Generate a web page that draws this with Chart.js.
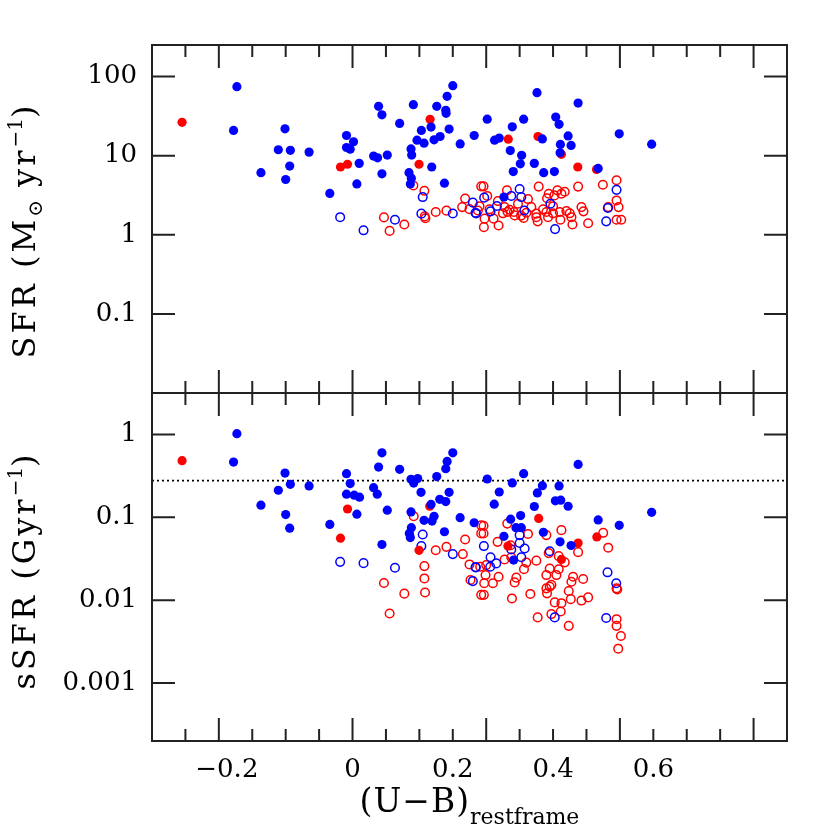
<!DOCTYPE html>
<html>
<head>
<meta charset="utf-8">
<script src="https://cdn.jsdelivr.net/npm/chart.js@4"></script>
<style>html,body{margin:0;background:#fff}canvas{display:block}</style>
</head>
<body>
<canvas id="myChart" width="830" height="830"></canvas>
<script>
// x axis: (U-B) restframe
const xMin = -0.3, xMax = 0.65;
const xMajorTicks = [-0.2, 0, 0.2, 0.4, 0.6];
const xMinorStep = 0.05;
// label positions as printed in the figure (they do not sit on the major ticks)
const xLabelPos = [-0.188, 0, 0.15, 0.30, 0.45];
const xLabelText = ['\u22120.2', '0', '0.2', '0.4', '0.6'];

// top panel: SFR
const sfrMin = 0.01, sfrMax = 251;
const sfrTicks = [100, 10, 1, 0.1];
const sfrTickText = ['100', '10', '1', '0.1'];
// bottom panel: sSFR
const ssfrMin = 0.0002, ssfrMax = 3.162;
const ssfrTicks = [1, 0.1, 0.01, 0.001];
const ssfrTickText = ['1', '0.1', '0.01', '0.001'];
const ssfrLimit = 0.277;

const sfrBlueFilled = [[-0.173,74.7],[-0.178,20.9],[-0.101,21.9],[-0.111,11.9],[-0.093,11.7],[-0.065,11.1],[-0.094,7.4],[-0.137,6.1],[-0.100,5.0],[-0.034,3.34],[-0.009,18.0],[0.0015,15.0],[-0.009,12.7],[-0.0035,12.1],[0.010,8.0],[0.0065,4.4],[0.039,42.1],[0.044,32.9],[0.0315,9.9],[0.0375,9.4],[0.052,10.2],[0.044,5.9],[0.0705,25.6],[0.091,44.2],[0.103,20.9],[0.1175,23.0],[0.0965,15.7],[0.107,14.4],[0.0875,12.2],[0.0885,10.2],[0.1185,7.2],[0.0845,6.1],[0.088,5.2],[0.0865,4.4],[0.1375,4.5],[0.126,42.1],[0.1395,37.5],[0.140,34.3],[0.1415,56.4],[0.150,76.9],[0.122,15.9],[0.131,17.5],[0.1445,21.7],[0.161,14.1],[0.182,18.0],[0.276,62.7],[0.3375,46.3],[0.2015,29.0],[0.256,29.0],[0.239,23.2],[0.304,30.8],[0.309,24.9],[0.2125,15.7],[0.2195,16.7],[0.284,16.3],[0.3225,17.8],[0.311,13.9],[0.327,13.5],[0.3105,10.9],[0.236,11.6],[0.253,10.1],[0.251,7.9],[0.272,8.0],[0.2405,6.3],[0.286,6.1],[0.302,6.3],[0.399,18.9],[0.4475,14.0],[0.3675,6.9],[0.2265,3.0]];
const sfrRedFilled = [[-0.255,26.4],[0.116,28.8],[-0.018,7.2],[-0.0075,7.8],[0.0995,7.8],[0.233,16.2],[0.2775,17.5],[0.3125,10.4],[0.337,7.2],[0.365,6.7]];
const sfrBlueOpen = [[-0.0185,1.67],[0.0165,1.14],[0.0635,1.55],[0.105,3.0],[0.103,1.85],[0.150,1.86],[0.180,2.55],[0.184,1.90],[0.250,3.8],[0.395,3.7],[0.197,2.95],[0.2375,3.1],[0.2525,3.0],[0.216,2.31],[0.2065,1.98],[0.185,1.86],[0.296,2.47],[0.257,2.03],[0.382,2.18],[0.3795,1.48],[0.303,1.18]];
const sfrRedOpen = [[0.091,4.2],[0.1075,3.6],[0.047,1.66],[0.0555,1.12],[0.0775,1.35],[0.108,1.71],[0.109,1.62],[0.1245,1.94],[0.1405,2.02],[0.1685,2.87],[0.164,2.24],[0.175,2.11],[0.1925,4.1],[0.196,4.1],[0.2785,4.07],[0.3375,4.07],[0.3745,4.3],[0.395,4.9],[0.231,3.65],[0.2015,3.1],[0.2175,2.67],[0.2625,2.83],[0.2935,3.3],[0.3065,3.65],[0.3175,3.5],[0.3125,3.3],[0.302,3.15],[0.291,2.9],[0.395,2.72],[0.398,2.24],[0.3825,2.24],[0.3425,2.24],[0.3455,1.98],[0.1875,2.03],[0.2275,2.24],[0.235,2.07],[0.2415,1.94],[0.2425,1.76],[0.225,1.87],[0.1975,1.6],[0.211,1.6],[0.1965,1.25],[0.2185,1.31],[0.256,1.63],[0.275,1.67],[0.277,1.48],[0.290,1.94],[0.2925,1.67],[0.300,1.87],[0.310,1.94],[0.311,1.55],[0.325,1.87],[0.3275,1.67],[0.329,1.35],[0.3525,1.40],[0.395,1.55],[0.402,1.55],[0.2675,2.24],[0.2475,2.47],[0.19,2.3],[0.205,2.1],[0.26,1.9],[0.285,2.1],[0.30,2.3],[0.32,2.0],[0.275,1.85],[0.232,1.95],[0.252,1.75]];

const ssfrBlueFilled = [[-0.173,1.02],[-0.178,0.464],[-0.101,0.342],[-0.111,0.212],[-0.093,0.250],[-0.065,0.239],[-0.137,0.14],[-0.100,0.108],[-0.094,0.074],[-0.034,0.082],[-0.009,0.336],[-0.0035,0.255],[-0.009,0.19],[0.0025,0.185],[0.0105,0.175],[0.0065,0.109],[0.044,0.60],[0.039,0.404],[0.0315,0.228],[0.037,0.19],[0.052,0.122],[0.044,0.047],[0.0705,0.379],[0.0875,0.287],[0.0975,0.293],[0.0915,0.259],[0.1025,0.20],[0.126,0.31],[0.1395,0.386],[0.1415,0.473],[0.150,0.60],[0.1445,0.20],[0.1305,0.165],[0.1395,0.155],[0.1175,0.143],[0.122,0.103],[0.107,0.092],[0.119,0.090],[0.0875,0.116],[0.088,0.075],[0.085,0.064],[0.0865,0.057],[0.1375,0.067],[0.161,0.099],[0.182,0.086],[0.3375,0.435],[0.2015,0.29],[0.256,0.336],[0.239,0.26],[0.2195,0.202],[0.212,0.144],[0.284,0.241],[0.2765,0.197],[0.309,0.239],[0.3035,0.158],[0.3115,0.161],[0.3225,0.136],[0.272,0.135],[0.2365,0.095],[0.2515,0.105],[0.2445,0.075],[0.2525,0.075],[0.2265,0.059],[0.2855,0.066],[0.3105,0.0506],[0.327,0.0457],[0.3675,0.093],[0.399,0.080],[0.4475,0.115],[0.241,0.0305]];
const ssfrRedFilled = [[-0.255,0.482],[-0.0075,0.126],[-0.018,0.056],[0.1155,0.136],[0.0995,0.040],[0.2785,0.097],[0.2325,0.045],[0.3375,0.049],[0.3655,0.058],[0.3125,0.031]];
const ssfrBlueOpen = [[-0.0185,0.029],[0.0165,0.028],[0.0635,0.0246],[0.105,0.062],[0.103,0.045],[0.150,0.036],[0.184,0.025],[0.180,0.017],[0.1965,0.045],[0.25,0.061],[0.25,0.049],[0.2575,0.042],[0.2375,0.041],[0.2525,0.033],[0.2065,0.033],[0.215,0.0278],[0.206,0.0253],[0.1845,0.0249],[0.295,0.039],[0.3815,0.0217],[0.3945,0.016],[0.3025,0.0062],[0.3795,0.0061]];
const ssfrRedOpen = [[0.0915,0.103],[0.1245,0.040],[0.1405,0.044],[0.1685,0.054],[0.165,0.036],[0.175,0.027],[0.1075,0.0258],[0.1075,0.0183],[0.1085,0.0124],[0.047,0.0161],[0.0775,0.012],[0.1925,0.080],[0.1925,0.064],[0.1765,0.0175],[0.0555,0.0069],[0.1925,0.0116],[0.196,0.079],[0.196,0.064],[0.2315,0.084],[0.2625,0.063],[0.3125,0.070],[0.29,0.061],[0.375,0.065],[0.3825,0.043],[0.217,0.0506],[0.2365,0.046],[0.2275,0.031],[0.2375,0.033],[0.275,0.030],[0.26,0.0284],[0.2935,0.037],[0.3085,0.034],[0.3175,0.0286],[0.3375,0.038],[0.2565,0.0237],[0.295,0.0241],[0.3085,0.0236],[0.29,0.0201],[0.305,0.0201],[0.191,0.0253],[0.2,0.0265],[0.199,0.0201],[0.197,0.016],[0.21,0.016],[0.2185,0.0192],[0.2425,0.0164],[0.245,0.0187],[0.3275,0.0167],[0.33,0.0192],[0.345,0.018],[0.29,0.0139],[0.2975,0.0153],[0.395,0.0139],[0.1965,0.0116],[0.2385,0.0105],[0.266,0.0119],[0.291,0.0121],[0.3235,0.0129],[0.3265,0.0103],[0.3425,0.0099],[0.3525,0.0108],[0.3025,0.0094],[0.3125,0.0092],[0.3115,0.0073],[0.2975,0.0068],[0.277,0.0062],[0.3235,0.0049],[0.395,0.0059],[0.395,0.0049],[0.4015,0.0037],[0.3975,0.0026],[0.396,0.0135],[0.295,0.0146]];

const BLUE = '#0000ff';
const RED = '#ff0000';
const FONT = 'DejaVu Serif';

const toPoints = (arr) => arr.map(([x, y]) => ({x, y}));

const filled = (data, color, axis, order) => ({
    data: toPoints(data), yAxisID: axis, order,
    pointRadius: 4.6, backgroundColor: color, borderWidth: 0, showLine: false,
});
const open = (data, color, axis, order) => ({
    data: toPoints(data), yAxisID: axis, order,
    pointRadius: 4.3, backgroundColor: 'rgba(0,0,0,0)', borderColor: color, borderWidth: 1.5, showLine: false,
});

// inward ticks and panel frames, SM style
const frameTicks = {
    id: 'frameTicks',
    afterDatasetsDraw(chart) {
        const {ctx, chartArea: {left, right}, scales: {x, y1, y2}} = chart;
        ctx.save();
        ctx.strokeStyle = '#222';
        ctx.lineWidth = 2;
        [[y1, sfrTicks], [y2, ssfrTicks]].forEach(([ys, vals]) => {
            ctx.strokeRect(left, ys.top, right - left, ys.bottom - ys.top);
            ctx.beginPath();
            vals.forEach((v) => {
                const py = ys.getPixelForValue(v);
                ctx.moveTo(left, py); ctx.lineTo(left + 23, py);
                ctx.moveTo(right, py); ctx.lineTo(right - 23, py);
            });
            const n0 = Math.ceil(xMin / xMinorStep + 1e-6), n1 = Math.floor(xMax / xMinorStep - 1e-6);
            for (let k = n0; k <= n1; k++) {
                const v = Math.round(k * xMinorStep * 100) / 100;
                const major = xMajorTicks.some((m) => Math.abs(m - v) < 1e-6);
                const len = major ? 23 : 12;
                const px = x.getPixelForValue(v);
                ctx.moveTo(px, ys.top); ctx.lineTo(px, ys.top + len);
                ctx.moveTo(px, ys.bottom); ctx.lineTo(px, ys.bottom - len);
            }
            ctx.stroke();
        });
        ctx.restore();
    },
};

// text with sub/superscripts
const drawRich = (ctx, parts, x, y, angle) => {
    ctx.save();
    ctx.translate(x, y);
    ctx.rotate(angle);
    ctx.fillStyle = '#000';
    ctx.textAlign = 'left';
    ctx.textBaseline = 'alphabetic';
    let total = 0;
    parts.forEach((p) => {
        ctx.font = `${p.size}px "${FONT}"`;
        ctx.letterSpacing = (p.ls || 0) + 'px';
        p.w = ctx.measureText(p.t).width;
        total += p.w;
    });
    let cx = -total / 2;
    parts.forEach((p) => {
        ctx.font = `${p.size}px "${FONT}"`;
        ctx.letterSpacing = (p.ls || 0) + 'px';
        ctx.fillText(p.t, cx, p.dy || 0);
        cx += p.w;
    });
    ctx.restore();
};

const axisTitles = {
    id: 'axisTitles',
    afterDraw(chart) {
        const {ctx, chartArea: {left, right}, scales: {x, y1, y2}} = chart;
        drawRich(ctx, [
            {t: 'SFR (M', size: 32, ls: 3},
            {t: '\u2299', size: 20, dy: 7},
            {t: ' yr', size: 32, ls: 3},
            {t: '\u22121', size: 20, dy: -13},
            {t: ')', size: 32},
        ], 35, (y1.top + y1.bottom) / 2 + 13, -Math.PI / 2);
        drawRich(ctx, [
            {t: 'sSFR (Gyr', size: 32, ls: 3},
            {t: '\u22121', size: 20, dy: -13},
            {t: ')', size: 32},
        ], 35, (y2.top + y2.bottom) / 2 + 5, -Math.PI / 2);
        drawRich(ctx, [
            {t: '(U\u2212B)', size: 33, ls: 1},
            {t: 'restframe', size: 22, dy: 12},
        ], (left + right) / 2, 812, 0);
    },
};

const yScale = (min, max, ticks, text) => ({
    type: 'logarithmic',
    position: 'left',
    stack: 'panels',
    stackWeight: 1,
    min, max,
    afterBuildTicks: (s) => { s.ticks = ticks.map((v) => ({value: v})); },
    ticks: {
        callback: (v, i) => text[i],
        font: {family: FONT, size: 26},
        color: '#000',
        padding: 15,
        autoSkip: false,
    },
    grid: {display: false, drawTicks: false},
    border: {display: false},
    afterFit: (s) => { s.width = 152; },
});

new Chart(document.getElementById('myChart'), {
    type: 'scatter',
    data: {
        datasets: [
            open(sfrRedOpen, RED, 'y1', 4),
            open(sfrBlueOpen, BLUE, 'y1', 3),
            filled(sfrRedFilled, RED, 'y1', 2),
            filled(sfrBlueFilled, BLUE, 'y1', 1),
            open(ssfrRedOpen, RED, 'y2', 4),
            open(ssfrBlueOpen, BLUE, 'y2', 3),
            filled(ssfrRedFilled, RED, 'y2', 2),
            filled(ssfrBlueFilled, BLUE, 'y2', 1),
            {
                data: [{x: xMin, y: ssfrLimit}, {x: xMax, y: ssfrLimit}],
                yAxisID: 'y2', order: 5, showLine: true, pointRadius: 0,
                borderColor: '#000', borderWidth: 1.6, borderDash: [2, 3],
            },
        ],
    },
    options: {
        responsive: false,
        animation: false,
        events: [],
        layout: {padding: {top: 45, right: 43, bottom: 0, left: 0}},
        scales: {
            x: {
                type: 'linear',
                min: xMin, max: xMax,
                afterBuildTicks: (s) => { s.ticks = xLabelPos.map((v) => ({value: v})); },
                ticks: {
                    callback: (v, i) => xLabelText[i],
                    font: {family: FONT, size: 26},
                    color: '#000',
                    padding: 14,
                    maxRotation: 0,
                    autoSkip: false,
                },
                grid: {display: false, drawTicks: false},
                border: {display: false},
                afterFit: (s) => { s.height = 89; },
            },
            y2: yScale(ssfrMin, ssfrMax, ssfrTicks, ssfrTickText),
            y1: yScale(sfrMin, sfrMax, sfrTicks, sfrTickText),
        },
        plugins: {
            legend: {display: false},
            tooltip: {enabled: false},
        },
    },
    plugins: [frameTicks, axisTitles],
});
</script>
</body>
</html>
